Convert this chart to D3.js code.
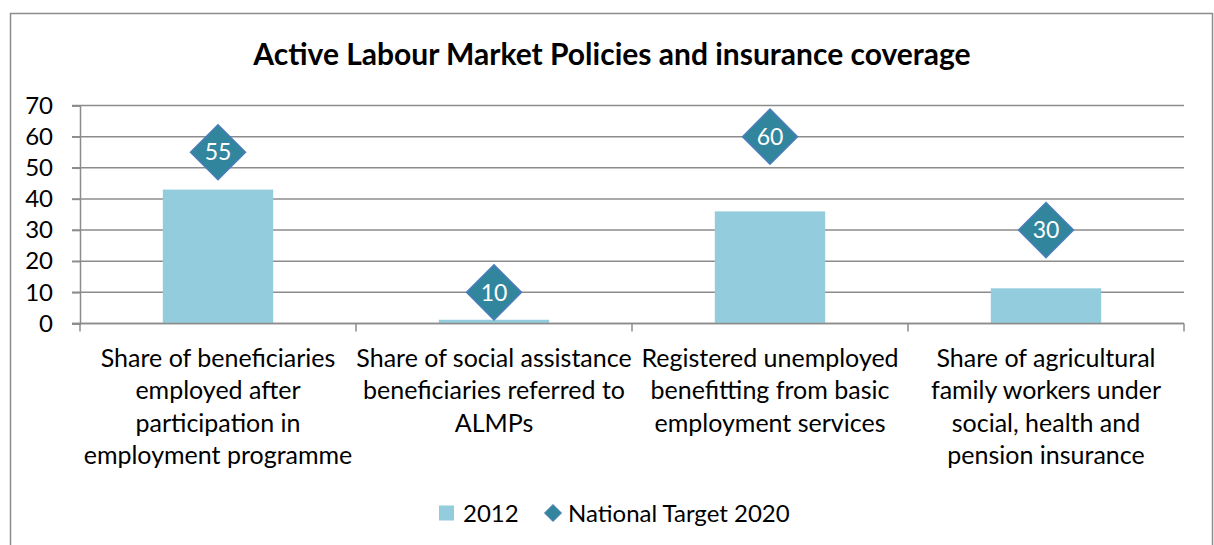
<!DOCTYPE html>
<html>
<head>
<meta charset="utf-8">
<script src="https://cdn.jsdelivr.net/npm/d3@7"></script>
<style>
  body { margin: 0; background: #fff; }
  svg { display: block; font-family: Lato, "Open Sans", sans-serif; }
</style>
</head>
<body>
<svg width="1214" height="545"></svg>
<script>
// chart data
const categories = ["c1", "c2", "c3", "c4"];
const categoryLines = [
    ["Share of beneficiaries", "employed after", "participation in", "employment programme"],
    ["Share of social assistance", "beneficiaries referred to", "ALMPs"],
    ["Registered unemployed", "benefitting from basic", "employment services"],
    ["Share of agricultural", "family workers under", "social, health and", "pension insurance"]
];
const values2012 = [43, 1.2, 36, 11.3];
const target2020 = [55, 10, 60, 30];
const yTicks = [0, 10, 20, 30, 40, 50, 60, 70];
const seriesNames = ["2012", "National Target 2020"];

const barColor = "#93CDDD";
const diamondFill = "#31859C";
const diamondStroke = "#4A7EBB";
const gridColor = "#8C8C8C";

const svg = d3.select("svg");

// outer chart frame
svg.append("rect")
    .attr("x", 10.5).attr("y", 13.5)
    .attr("width", 1202).attr("height", 560)
    .attr("fill", "none").attr("stroke", gridColor).attr("stroke-width", 1.5);

// title
svg.append("text")
    .attr("x", 612).attr("y", 65)
    .attr("text-anchor", "middle")
    .attr("font-size", 30).attr("font-weight", "bold")
    .text("Active Labour Market Policies and insurance coverage");

// scales
const x = d3.scaleBand().domain(categories).range([80, 1184]).padding(0);
const y = d3.scaleLinear().domain([0, 70]).range([323.5, 105.5]);

// gridlines
svg.append("g").selectAll("line")
    .data(yTicks)
    .join("line")
    .attr("x1", 72).attr("x2", 1184)
    .attr("y1", d => y(d)).attr("y2", d => y(d))
    .attr("stroke", gridColor).attr("stroke-width", 1.5);

// y axis
const yAxis = svg.append("g")
    .attr("transform", "translate(80,0)")
    .call(d3.axisLeft(y).tickValues(yTicks).tickSize(8).tickPadding(19));
yAxis.select(".domain").attr("stroke", gridColor).attr("stroke-width", 1.5);
yAxis.selectAll(".tick line").attr("stroke", gridColor).attr("stroke-width", 1.5);
yAxis.selectAll(".tick text")
    .attr("font-size", 24).attr("fill", "#000")
    .attr("font-family", "Lato, 'Open Sans', sans-serif");

// x axis ticks at category boundaries
const bounds = categories.map(c => x(c)).concat([x.range()[1]]);
svg.append("g").selectAll("line")
    .data(bounds)
    .join("line")
    .attr("x1", d => d).attr("x2", d => d)
    .attr("y1", y(0)).attr("y2", y(0) + 8)
    .attr("stroke", gridColor).attr("stroke-width", 1.5);

// bars
const bw = x.bandwidth() * 0.4;
svg.append("g").selectAll("rect")
    .data(values2012)
    .join("rect")
    .attr("x", (d, i) => x(categories[i]) + x.bandwidth() / 2 - bw / 2)
    .attr("y", d => y(d))
    .attr("width", bw)
    .attr("height", d => y(0) - y(d))
    .attr("fill", barColor);

// redraw baseline over bars
svg.append("line")
    .attr("x1", 72).attr("x2", 1184)
    .attr("y1", y(0)).attr("y2", y(0))
    .attr("stroke", gridColor).attr("stroke-width", 1.5);

// target diamonds with labels
const diamond = r => `M0,${-r}L${r},0L0,${r}L${-r},0Z`;
const marks = svg.append("g").selectAll("g")
    .data(target2020)
    .join("g")
    .attr("transform", (d, i) => `translate(${x(categories[i]) + x.bandwidth() / 2},${y(d)})`);
marks.append("path")
    .attr("d", diamond(27.5))
    .attr("fill", diamondFill)
    .attr("stroke", diamondStroke).attr("stroke-width", 1.5);
marks.append("text")
    .attr("text-anchor", "middle").attr("dy", "0.36em")
    .attr("font-size", 23).attr("fill", "#fff")
    .text(d => d);

// category labels
const labels = svg.append("g").selectAll("text")
    .data(categoryLines)
    .join("text")
    .attr("text-anchor", "middle")
    .attr("font-size", 25).attr("fill", "#000");
labels.selectAll("tspan")
    .data((d, i) => d.map(line => ({ line, i })))
    .join("tspan")
    .attr("x", d => x(categories[d.i]) + x.bandwidth() / 2)
    .attr("y", (d, j) => 367 + j * 32.4)
    .text(d => d.line);

// legend
const legend = svg.append("g").attr("transform", "translate(0,513)");
legend.append("rect")
    .attr("x", 439).attr("y", -7.5).attr("width", 15).attr("height", 15)
    .attr("fill", barColor);
legend.append("text")
    .attr("x", 463).attr("dy", "0.36em")
    .attr("font-size", 24).text(seriesNames[0]);
legend.append("path")
    .attr("transform", "translate(553,0)")
    .attr("d", diamond(8.5))
    .attr("fill", diamondFill).attr("stroke", diamondStroke).attr("stroke-width", 1);
legend.append("text")
    .attr("x", 568).attr("dy", "0.36em")
    .attr("font-size", 24).text(seriesNames[1]);
</script>
</body>
</html>
